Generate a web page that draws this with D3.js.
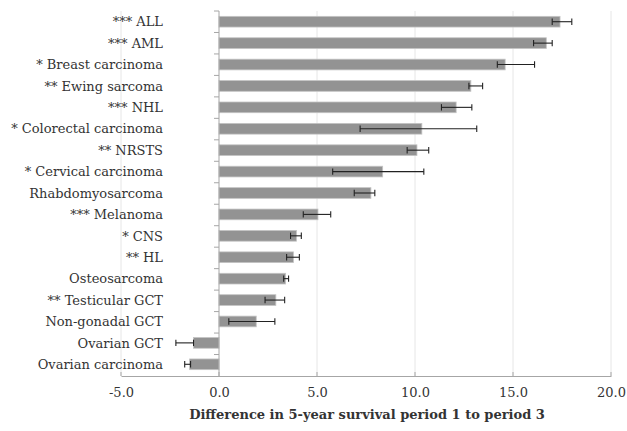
<!DOCTYPE html>
<html>
<head>
<meta charset="utf-8">
<script src="https://cdn.jsdelivr.net/npm/d3@7"></script>
<style>
  body { margin: 0; background: #fff; }
  text { font-family: "DejaVu Serif", serif; fill: #333; }
</style>
</head>
<body>
<div id="graph"></div>
<script>
// chart data, top to bottom
var cancers = ["*** ALL", "*** AML", "* Breast carcinoma", "** Ewing sarcoma", "*** NHL",
               "* Colorectal carcinoma", "** NRSTS", "* Cervical carcinoma", "Rhabdomyosarcoma",
               "*** Melanoma", "* CNS", "** HL", "Osteosarcoma", "** Testicular GCT",
               "Non-gonadal GCT", "Ovarian GCT", "Ovarian carcinoma"];
var diff  = [17.4, 16.7, 14.6, 12.85, 12.1, 10.35, 10.1, 8.35, 7.75, 5.05, 3.95, 3.8, 3.4, 2.9, 1.9, -1.3, -1.5];
var lower = [17.0, 16.05, 14.2, 12.75, 11.35, 7.2, 9.6, 5.8, 6.9, 4.3, 3.65, 3.45, 3.3, 2.35, 0.5, -2.2, -1.75];
var upper = [18.0, 17.0, 16.1, 13.45, 12.9, 13.15, 10.7, 10.45, 7.95, 5.7, 4.2, 4.1, 3.55, 3.35, 2.85, -1.3, -1.45];
var xTicks = [-5, 0, 5, 10, 15, 20];

var rows = cancers.map((c, i) => ({name: c, v: diff[i], lo: lower[i], hi: upper[i]}));

var w = 627, h = 431;
var vis = d3.select("#graph").append("svg").attr("width", w).attr("height", h);

var x = d3.scaleLinear().domain([-5, 20]).range([121, 611]);
var y = d3.scaleBand().domain(cancers).range([11, 375]).paddingInner(0.5).paddingOuter(0.25);
var yTop = 11, yBot = 376;

// gridlines
vis.selectAll("line.grid")
   .data(xTicks.filter(t => t != 0))
   .enter().append("line")
   .attr("class", "grid")
   .attr("x1", d => x(d)).attr("x2", d => x(d))
   .attr("y1", yTop).attr("y2", yBot)
   .attr("stroke", "#e6e6e6").attr("stroke-width", 1);

// bars
vis.selectAll("rect.bar")
   .data(rows)
   .enter().append("rect")
   .attr("class", "bar")
   .attr("x", d => x(Math.min(0, d.v)))
   .attr("y", d => y(d.name))
   .attr("width", d => Math.abs(x(d.v) - x(0)))
   .attr("height", y.bandwidth())
   .attr("fill", "#939393")
   .attr("stroke", "#c4c4c4")
   .attr("stroke-width", 0.8);

// error bars
var eb = vis.selectAll("g.err").data(rows).enter().append("g").attr("class", "err")
   .attr("stroke", "#222").attr("stroke-width", 1.1);
eb.append("line")
  .attr("x1", d => x(d.lo)).attr("x2", d => x(d.hi))
  .attr("y1", d => y(d.name) + y.bandwidth() / 2).attr("y2", d => y(d.name) + y.bandwidth() / 2);
eb.append("line")
  .attr("x1", d => x(d.lo)).attr("x2", d => x(d.lo))
  .attr("y1", d => y(d.name) + y.bandwidth() / 2 - 3.2).attr("y2", d => y(d.name) + y.bandwidth() / 2 + 3.2);
eb.append("line")
  .attr("x1", d => x(d.hi)).attr("x2", d => x(d.hi))
  .attr("y1", d => y(d.name) + y.bandwidth() / 2 - 3.2).attr("y2", d => y(d.name) + y.bandwidth() / 2 + 3.2);

// x axis
var xAxis = vis.append("g").attr("transform", "translate(0," + yBot + ")")
   .call(d3.axisBottom(x).tickValues(xTicks).tickSize(0).tickPadding(12)
           .tickFormat(d => d.toFixed(1)));
xAxis.select(".domain").attr("stroke", "#a6a6a6");
xAxis.selectAll("text").style("font-size", "13px").attr("fill", "#333");
vis.selectAll("line.xtick")
   .data(xTicks)
   .enter().append("line")
   .attr("class", "xtick")
   .attr("x1", d => x(d)).attr("x2", d => x(d))
   .attr("y1", yBot - 4).attr("y2", yBot)
   .attr("stroke", "#a6a6a6");

// vertical axis at zero
vis.append("line")
   .attr("x1", x(0)).attr("x2", x(0)).attr("y1", yTop).attr("y2", yBot)
   .attr("stroke", "#a6a6a6");
vis.selectAll("line.ytick")
   .data(d3.range(cancers.length))
   .enter().append("line")
   .attr("class", "ytick")
   .attr("x1", x(0) - 5).attr("x2", x(0))
   .attr("y1", d => yTop + d * (yBot - yTop) / cancers.length)
   .attr("y2", d => yTop + d * (yBot - yTop) / cancers.length)
   .attr("stroke", "#a6a6a6");

// category labels
vis.selectAll("text.cat")
   .data(rows)
   .enter().append("text")
   .attr("class", "cat")
   .attr("x", 163)
   .attr("y", d => y(d.name) + y.bandwidth() / 2)
   .attr("dy", "0.36em")
   .attr("text-anchor", "end")
   .style("font-size", "13px")
   .text(d => d.name);

// axis title
vis.append("text")
   .attr("x", 367).attr("y", 419)
   .attr("text-anchor", "middle")
   .style("font-size", "13px").style("font-weight", "bold")
   .text("Difference in 5-year survival period 1 to period 3");
</script>
</body>
</html>
